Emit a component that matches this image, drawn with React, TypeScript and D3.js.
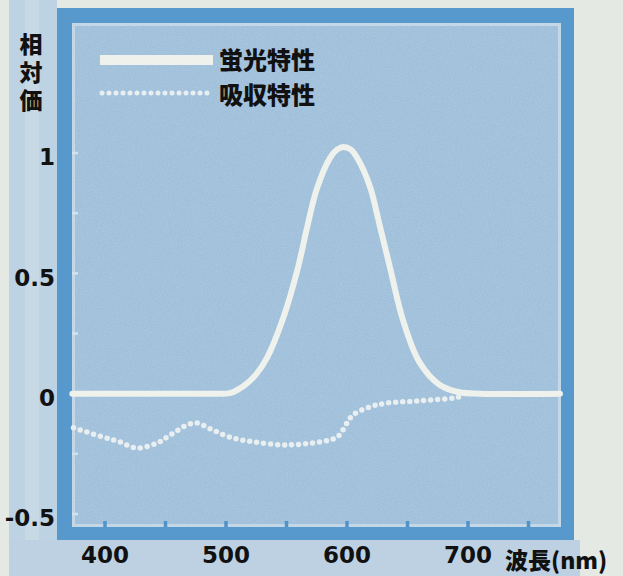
import React from "react";
import * as d3 from "d3";

// ---- data ----
const fluoWl = [373, 490, 503, 514, 524, 534, 547, 559, 567, 575, 586, 592, 597, 603, 609, 619, 627, 636, 646, 660, 677, 693, 710, 776];
const fluoVal = [0, 0, 0.002, 0.03, 0.075, 0.15, 0.31, 0.514, 0.69, 0.85, 0.98, 1.015, 1.025, 1.015, 0.975, 0.86, 0.7, 0.514, 0.31, 0.13, 0.035, 0.006, 0, 0];

const absWl = [374, 398, 412, 426, 443, 454, 468, 476, 489, 503, 522, 550, 578, 592, 600, 605, 619, 633, 660, 688, 694];
const absVal = [-0.142, -0.18, -0.2, -0.226, -0.205, -0.172, -0.13, -0.122, -0.151, -0.18, -0.2, -0.213, -0.2, -0.18, -0.122, -0.088, -0.055, -0.039, -0.03, -0.018, -0.012];

const xTickLabels = [400, 500, 600, 700];
const xTickMarks = [400, 450, 500, 550, 600, 650, 700, 750];
const yTickLabels = [1, 0.5, 0, -0.5];
const yTickMarks = [-0.5, -0.25, 0, 0.25, 0.5, 0.75, 1];
const legendNames = ["蛍光特性", "吸収特性"];
const yTitle = "相対価";
const xTitle = "波長(nm)";

const W = 623;
const H = 576;

export default function App() {
  const x = d3.scaleLinear().domain([400, 750]).range([105, 528.5]);
  const y = d3.scaleLinear().domain([-0.5, 1]).range([514, 153]);

  const line = d3
    .line<[number, number]>()
    .x((d) => x(d[0]))
    .y((d) => y(d[1]))
    .curve(d3.curveCatmullRom.alpha(0.5));

  const fluoPath = line(fluoWl.map((w, i) => [w, fluoVal[i]] as [number, number])) || "";
  const absPath = line(absWl.map((w, i) => [w, absVal[i]] as [number, number])) || "";

  const frame = { x: 57, y: 8, w: 517, h: 532 };
  const panel = { x: 72, y: 23, w: 489, h: 504 };

  const numFont = "'DejaVu Sans', sans-serif";
  const jpFont = "'Noto Sans CJK JP', sans-serif";
  const lineColor = "#eef1ec";
  const dotColor = "#e9eff0";

  return (
    <svg
      width={W}
      height={H}
      viewBox={`0 0 ${W} ${H}`}
      style={{ position: "absolute", left: 0, top: 0, display: "block" }}
    >
      <defs>
        <filter id="grain" x="0" y="0" width="100%" height="100%">
          <feTurbulence type="fractalNoise" baseFrequency="0.8" numOctaves={2} seed={3} result="n" />
          <feColorMatrix in="n" type="matrix" values="0 0 0 0 1  0 0 0 0 1  0 0 0 0 1  0 0 0 0.9 -0.3" />
        </filter>
      </defs>

      {/* page background */}
      <rect x={0} y={0} width={W} height={H} fill="#e4e9e4" />
      {/* left strip behind y labels */}
      <rect x={9} y={0} width={frame.x - 9} height={H} fill="#bdd2e3" />
      <rect x={25} y={0} width={14} height={H} fill="#d3e0ea" opacity={0.5} />
      {/* bottom band */}
      <rect x={9} y={frame.y + frame.h} width={frame.x + frame.w - 3} height={H - frame.y - frame.h} fill="#bdd1e2" />

      {/* frame */}
      <rect x={frame.x} y={frame.y} width={frame.w} height={frame.h} fill="#5799cd" />
      {/* inner panel */}
      <rect x={panel.x} y={panel.y} width={panel.w} height={panel.h} fill="#9fbfda" />
      <rect x={panel.x} y={panel.y} width={panel.w} height={panel.h} filter="url(#grain)" opacity={0.3} />
      <rect
        x={panel.x + 1.5}
        y={panel.y + 1.5}
        width={panel.w - 3}
        height={panel.h - 3}
        fill="none"
        stroke="#c3d7e6"
        strokeWidth={3}
      />

      {/* y tick marks */}
      {yTickMarks.map((v) => (
        <line key={"yt" + v} x1={panel.x} x2={panel.x + 6} y1={y(v)} y2={y(v)} stroke="#d4e2ec" strokeWidth={2.5} />
      ))}
      {/* x tick marks */}
      {xTickMarks.map((v) => (
        <line key={"xt" + v} x1={x(v)} x2={x(v)} y1={panel.y + panel.h} y2={panel.y + panel.h - 6} stroke="#4f93c7" strokeWidth={3.5} />
      ))}

      {/* curves */}
      <path d={fluoPath} fill="none" stroke={lineColor} strokeWidth={6} strokeLinejoin="round" strokeLinecap="round" />
      <path
        d={absPath}
        fill="none"
        stroke={dotColor}
        strokeWidth={5.5}
        strokeLinecap="round"
        strokeDasharray="0 7"
      />

      {/* legend */}
      <line x1={100} x2={213} y1={60} y2={60} stroke={lineColor} strokeWidth={10} />
      <line x1={102} x2={213} y1={93} y2={93} stroke={dotColor} strokeWidth={5} strokeLinecap="round" strokeDasharray="0 7" />
      {legendNames.map((n, i) => (
        <text
          key={n}
          x={219}
          y={60 + i * 35}
          dy="0.36em"
          fontFamily={jpFont}
          fontWeight={900}
          fontSize={24}
          fill="#111"
        >
          {n}
        </text>
      ))}

      {/* y tick labels */}
      {yTickLabels.map((v) => (
        <text
          key={"yl" + v}
          x={55}
          y={y(v) + 4}
          dy="0.36em"
          textAnchor="end"
          fontFamily={numFont}
          fontWeight="bold"
          fontSize={23}
          fill="#111"
        >
          {String(v)}
        </text>
      ))}

      {/* x tick labels */}
      {xTickLabels.map((v) => (
        <text
          key={"xl" + v}
          x={x(v)}
          y={563}
          textAnchor="middle"
          fontFamily={numFont}
          fontWeight="bold"
          fontSize={23}
          fill="#111"
        >
          {v}
        </text>
      ))}

      {/* y title (vertical) */}
      <text
        x={31}
        y={33}
        fontFamily={jpFont}
        fontWeight={900}
        fontSize={23}
        fill="#111"
        style={{ writingMode: "vertical-rl", letterSpacing: "5px" }}
      >
        {yTitle}
      </text>

      {/* x title */}
      <text x={505} y={569} fontFamily={jpFont} fontWeight={900} fontSize={23} fill="#111">
        {xTitle}
      </text>
    </svg>
  );
}
